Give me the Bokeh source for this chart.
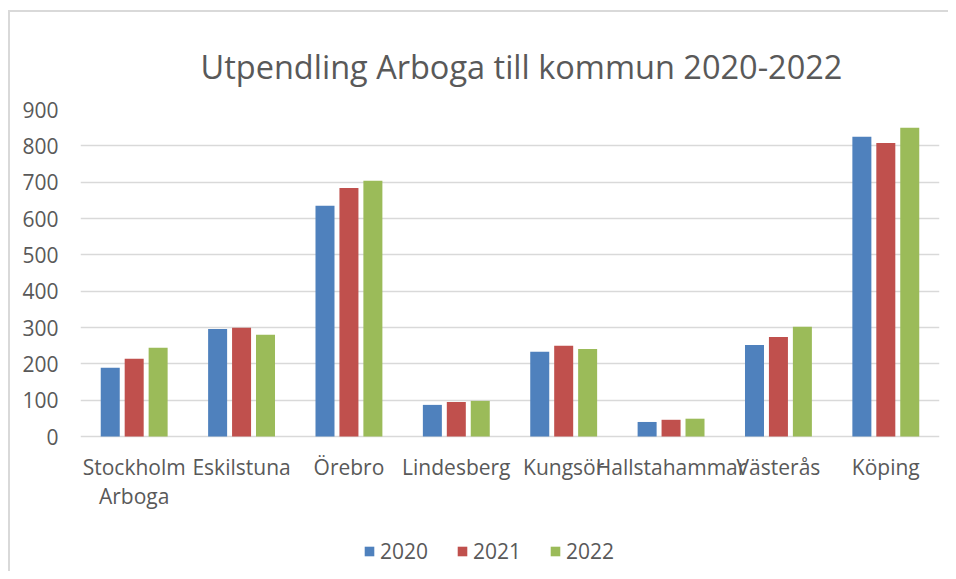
from bokeh.plotting import figure
from bokeh.models import ColumnDataSource, FactorRange, Range1d, FixedTicker, Legend, LegendItem
from bokeh.core.properties import value
from bokeh.transform import dodge
from bokeh.embed import file_html
from bokeh.resources import INLINE

categories = ["Stockholm Arboga", "Eskilstuna", "Örebro", "Lindesberg", "Kungsör", "Hallstahammar", "Västerås", "Köping"]
x_labels = ["Stockholm\nArboga", "Eskilstuna", "Örebro", "Lindesberg", "Kungsör", "Hallstahammar", "Västerås", "Köping"]
v2020 = [189, 296, 635, 87, 233, 40, 252, 825]
v2021 = [214, 299, 684, 95, 250, 46, 274, 808]
v2022 = [244, 280, 704, 98, 241, 49, 302, 850]
years = ["2020", "2021", "2022"]
y_ticks = [0, 100, 200, 300, 400, 500, 600, 700, 800, 900]

colors = ["#4F81BD", "#C0504D", "#9BBB59"]
FONT = "Open Sans"
GRAY = "#595959"

src = ColumnDataSource(dict(cat=categories, label=x_labels, y0=[0] * len(categories),
                            y2020=v2020, y2021=v2021, y2022=v2022))

# frame extends below the value axis so that the category labels and legend sit inside it
px_per_unit = 327 / 900.0
p = figure(frame_width=859, frame_height=462, output_backend="svg", toolbar_location=None,
           x_range=FactorRange(*categories, range_padding=0),
           y_range=Range1d(-135 / px_per_unit, 900),
           title="Utpendling Arboga till kommun 2020-2022",
           min_border_left=72, min_border_right=9, min_border_top=99, min_border_bottom=0)
p.styles = {"margin-top": "10px", "margin-left": "8px", "box-shadow": "inset 2px 2px 0 #D9D9D9"}
p.border_fill_color = None
p.background_fill_color = "white"
p.outline_line_color = None

p.title.text_font = FONT
p.title.text_font_size = "32.5px"
p.title.text_font_style = "normal"
p.title.text_color = GRAY
p.title.align = "left"
p.title.offset = 120
p.title.standoff = 42

renderers = []
for i, (col, c) in enumerate(zip(["y2020", "y2021", "y2022"], colors)):
    r = p.vbar(x=dodge("cat", (i - 1) * 0.223, range=p.x_range), top=col, width=0.177,
               source=src, fill_color=c, line_color=None)
    renderers.append(r)

p.text(x="cat", y="y0", text="label", source=src, y_offset=16,
       text_font=value(FONT), text_font_size="21px", text_color=GRAY,
       text_align="center", text_baseline="top", text_line_height=1.05)

p.yaxis.ticker = FixedTicker(ticks=y_ticks)
p.yaxis.axis_line_color = None
p.yaxis.major_tick_line_color = None
p.yaxis.major_tick_out = 0
p.yaxis.major_tick_in = 0
p.yaxis.minor_tick_line_color = None
p.yaxis.major_label_text_font = FONT
p.yaxis.major_label_text_font_size = "21px"
p.yaxis.major_label_text_color = GRAY
p.yaxis.major_label_standoff = 22

p.xaxis.visible = False
p.xgrid.grid_line_color = None
p.ygrid.ticker = FixedTicker(ticks=y_ticks)
p.ygrid.grid_line_color = "#D9D9D9"
p.ygrid.grid_line_width = 1.5

legend = Legend(items=[LegendItem(label=y, renderers=[r]) for y, r in zip(years, renderers)],
                orientation="horizontal", location=(283, 6))
legend.label_text_font = FONT
legend.label_text_font_size = "21px"
legend.label_text_color = GRAY
legend.glyph_width = 12
legend.glyph_height = 12
legend.label_standoff = 5
legend.spacing = 28
legend.padding = 0
legend.margin = 0
legend.border_line_color = None
legend.background_fill_alpha = 0
p.add_layout(legend)

open("out.html", "w").write(file_html(p, INLINE))
